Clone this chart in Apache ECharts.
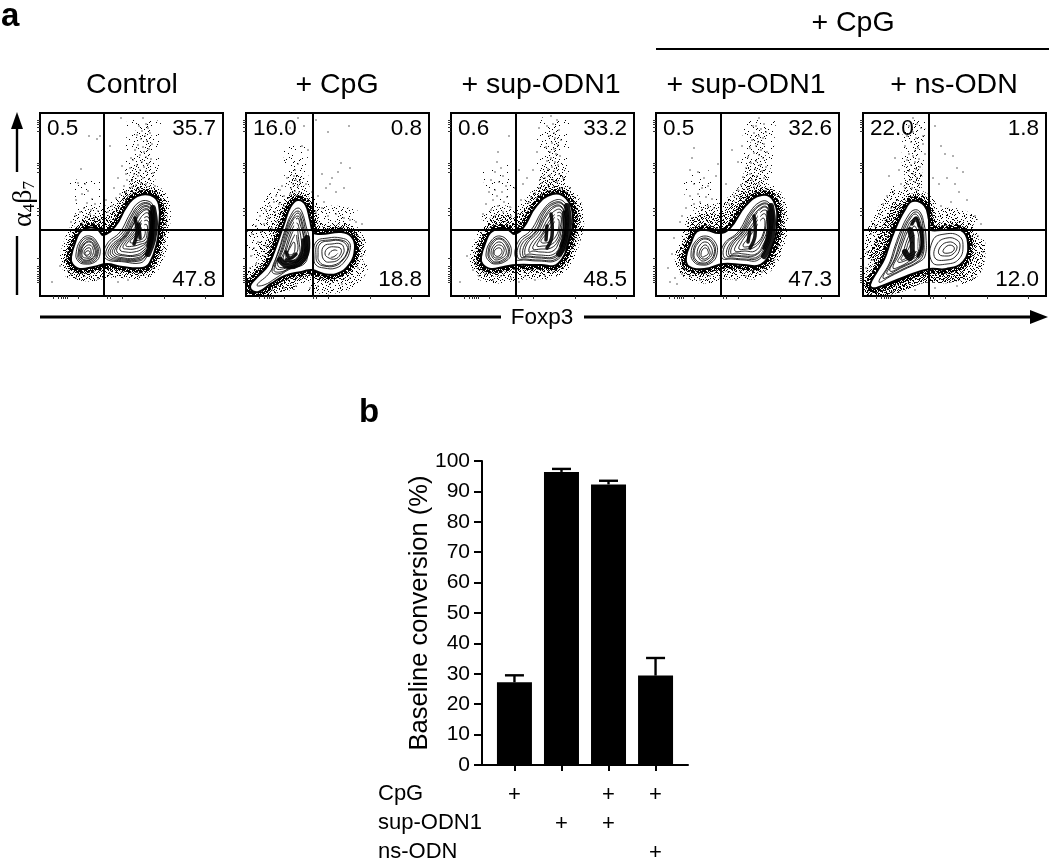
<!DOCTYPE html>
<html><head><meta charset="utf-8">
<script src="https://cdn.jsdelivr.net/npm/echarts@6/dist/echarts.min.js"></script>
<style>html,body{margin:0;padding:0;background:#fff}#c{width:1050px;height:862px}</style>
</head><body><div id="c"></div>
<script>
// ---------- bar chart values ----------
const barConditions = [1, 2, 3, 4];
const barMeans = [27.2, 96.4, 92.3, 29.4];
const barUpper = [29.5, 97.4, 93.5, 35.2];
const rowTitles = ['CpG', 'sup-ODN1', 'ns-ODN'];
const rowCpG = ['+', ' ', '+', '+'];
const rowSup = [' ', '+', '+', ' '];
const rowNs = [' ', ' ', ' ', '+'];
// ---------- flow panels ----------
const panelTitles = ['Control', '+ CpG', '+ sup-ODN1', '+ sup-ODN1', '+ ns-ODN'];
const panelUL = ['0.5', '16.0', '0.6', '0.5', '22.0'];
const panelUR = ['35.7', '0.8', '33.2', '32.6', '1.8'];
const panelLR = ['47.8', '18.8', '48.5', '47.3', '12.0'];
const gateX = [64, 67, 65, 65, 66];
const gateY = [66.5, 66.5, 66, 66, 66];
const xTicks = [13, 18, 21, 23, 25, 27, 38, 67, 70, 82, 124, 165];
const yTicks = [14, 16, 18, 20, 22, 25, 28, 30, 38, 81, 85, 88, 124, 128, 131, 133, 165, 169, 172, 174, 176];

// stipple tile for the cloud of events: a pixel is inked where its digit pair is below the density
const stippleTile = [
'730916482957304186293571','264871039416825037948162','918350627183096452710396','405279164725483901365827',
'681043895302716948052134','137625908461350279684910','794018236597142803516273','350962471038695124870649',
'826137590214708365921058','093584162749031587246317','572690318825964013798542','148305729460137896352061',
'965214083791526340817495','301786945038249175603928','487029613652870431965172','756341208917035628149403',
'029568734150692487320716','614897052346918703582649','893120476583402159761035','270465918037265841093587',
'546781329604173920658214','182039657428590316247860','935672041861347205916358','418206593710284967035129'];

const p1Outer = [33,39,37,53,43,64,55,66,63,59,77,69,88,88,98,98,110,99,117,91,117,69,115,53,108,34,102,30,83,31,67,34,53,31,40,29,34,33];
const p1Plumes = [[0.3,34,104,176,103,150,102,120],[0.7,16,104,172,103,145,102,120],[1,26,103,130,102,115,98,100],[2,16,100,116,95,104,88,92],[0.2,30,44,118,50,96,58,80],[1,18,36,72,50,80,64,80,78,88,92,104],[3,13,42,70,54,74,64,72,76,78,90,98],[2,15,28,26,48,22,72,26,100,24]];
const p1Rings = [
[36,42,41,56,50,60,58,52,60,42,55,34,44,32,38,35],[38,42,42,55,50,58,57,51,58,42,54,35,45,33,39,36],[39,43,43,53,50,57,56,50,57,42,53,36,45,34,40,37],[40,43,44,52,50,55,55,49,56,42,52,37,45,35,41,38],[41,43,44,51,50,54,54,49,55,42,51,37,45,36,42,38],[42,43,45,49,50,51,53,47,53,42,50,38,46,38,43,39],[44,43,46,47,50,48,51,45,51,42,49,39,46,40],[45,43,47,45,49,45,50,43,48,41,46,41],
[65,38,67,52,80,64,90,82,98,93,108,95,114,88,114,68,112,52,106,38,100,33,85,34],[67,39,69,51,82,63,91,80,99,91,108,93,113,87,113,68,112,52,105,39,99,35,84,35],[69,40,71,50,83,61,92,79,100,90,108,92,113,86,113,68,111,52,105,40,98,36,84,36],[71,41,73,50,84,60,93,77,100,88,108,90,112,84,112,68,111,53,104,41,97,37,84,37],[73,42,75,50,85,60,94,76,101,87,108,89,112,82,112,68,110,54,104,42,96,38,84,38],[75,43,77,50,86,60,95,75,101,85,108,87,111,81,111,67,110,54,103,43,96,40,85,40],[77,44,79,51,87,60,95,74,102,84,108,86,111,80,111,66,109,54,103,45,95,41,85,41],[80,46,82,52,89,60,97,72,103,81,108,83,110,76,110,64,108,54,102,47,94,44,86,44],[83,48,85,53,91,60,98,70,104,78,108,79,110,72,109,62,107,54,102,50,94,47,87,47],[86,50,88,54,93,60,99,68,104,75,108,75,109,68,108,60,106,54,101,52,94,50],[90,54,95,60,100,66,104,71,107,71,107,62,105,56,100,54,94,53],
[95,56,99,62,102,68,105,66,104,59,100,56]];
const p1Core = [[113,88,115,72,113,56,108,42],[110,84,111,66,108,50],[95,78,97,64,94,52],[99,72,100,58]];
const p1Light = [[103,79,103,64]];
const p1Dots = [103,178,106,172,99,170,108,168,102,165,110,163,97,161,105,160,101,157,107,155,112,152,98,151,103,149,109,147,95,146,104,144,100,141,106,139,111,137,93,136,102,134,108,132,97,131,104,129,90,128,100,126,106,125,113,123,94,122,98,120,103,118,109,117,87,116,92,115,101,113,106,112,96,111,84,110,90,108,99,107,104,106,110,105,86,104,93,103,80,102,97,101,108,101,88,100,76,98,83,97,92,109,115,110,99,123,86,122,81,178,60,160,57,157,49,160,70,150,41,127,38,113,45,112,48,105,42,102,52,97,36,96,47,93,55,92,44,88,51,86,58,85,40,84,35,80,47,79,54,78,60,76,31,74,42,73,50,82,12,14,20,30,28,25,31,22,36,18,44,20,58,17,63,19,70,22,78,14,88,16,94,26,100,23,112,28,120,41,123,60,126,72,122,84,118,100,72,90,68,84,66,96,74,108,78,118,82,130,91,138];

const p2Outer = [6,9,12,17,24,30,33,52,40,72,46,88,52,94,58,90,62,76,66,62,75,60,95,62,104,58,107,48,102,33,90,24,78,24,66,28,55,26,38,22,24,14,12,6];
const p2Plumes = [[0.4,24,50,150,50,125,52,104],[1.2,16,50,122,50,104,48,92],[0.7,34,8,40,18,60,30,84,42,98],[1.6,16,14,36,24,58,34,82],[0.7,24,72,78,92,78,108,74],[1.2,20,64,14,84,12,104,18,114,34],[2.5,14,12,4,30,10,50,14]];
const p2Rings = [
[11,11,24,24,32,44,39,66,46,83,52,88,56,84,60,70,63,58,62,42,58,32,44,27,30,18,18,11],[26,25,33,45,40,66,46,80,52,85,56,80,59,68,61,56,61,42,56,32,44,28,32,22],[28,26,35,46,41,66,47,78,52,83,55,78,58,66,60,54,60,42,55,33,44,28,34,24],[30,28,36,46,42,65,47,76,52,80,55,75,57,64,59,52,59,42,54,34,44,29],[32,30,37,46,43,64,48,74,52,78,54,72,57,62,58,50,58,42,53,35,44,30],[35,34,39,46,44,62,48,70,51,73,53,68,55,58,56,48,56,42,51,36,43,32],[37,36,41,48,45,60,48,66,51,68,52,62,53,54,54,46,53,41,48,36,42,34],[40,38,43,48,47,58,50,62,51,56,52,48,50,42,46,38],[42,42,45,50,48,54,49,48,47,42],
[68,38,70,54,82,58,95,58,103,54,104,46,99,35,90,28,78,28,70,31],[70,39,72,53,83,56,95,56,102,52,102,45,97,36,89,30,78,30,72,33],[72,40,74,52,84,55,95,55,101,50,101,44,96,36,88,31,78,31,73,35],[76,42,78,50,86,52,95,52,98,47,97,42,92,36,85,34,79,35],[79,42,82,48,90,49,95,47,94,41,89,37,83,38],[83,42,88,46,92,44,89,40,85,39]];
const p2Core = [[34,36,42,30,52,32,60,42,61,58],[40,36,50,35,56,44,57,56],[40,44,44,38,50,42]];
const p2Light = [[49,76,50,62],[84,40,92,44]];
const p2Dots = [52,178,58,170,44,168,56,150,62,146,70,176,82,164,103,170,104,128,95,133,92,124,86,118,84,112,76,122,80,108,90,104,98,108,52,132,49,126,48,120,50,116,54,114,47,112,52,110,45,108,49,105,53,104,44,102,50,100,41,118,36,110,34,106,38,100,30,100,42,98,28,94,33,92,24,90,38,90,20,86,29,84,14,80,22,78,18,72,10,70,26,68,15,64,6,62,12,54,8,48,20,50,5,40,10,32,4,28,18,40,70,84,76,88,82,80,90,82,98,78,104,76,110,74,116,72,112,60,118,56,116,40,112,28,104,18,96,12,84,12,72,10,64,8,50,10,38,8,26,6,72,100,78,94,60,112,66,104];

const p3Outer = [32,39,36,52,42,63,55,65,63,60,73,66,87,89,102,100,114,96,120,79,117,59,106,34,90,33,65,33,52,31,40,29,33,33];
const p3Plumes = [[0.3,32,103,178,102,150,102,120],[0.8,16,102,170,102,145,102,120],[1.2,26,102,132,102,118,98,102],[2.2,16,100,118,94,106,86,94],[0.2,30,46,130,50,104,58,82],[1,18,36,72,50,82,64,78,80,90,92,106],[3,13,40,70,50,76,64,72,76,80,90,100],[1.5,15,28,24,46,20,72,24,100,24]];
const p3Rings = [
[35,42,40,55,49,60,58,53,60,42,55,35,44,32,38,35],[37,43,41,54,49,58,57,51,58,42,54,36,44,33,39,36],[38,43,42,53,49,57,56,50,57,42,53,37,45,34,40,37],[40,43,43,51,49,54,54,49,55,42,51,38,45,36,42,38],[42,43,44,49,49,51,53,47,52,42,50,39,46,38,43,39],[43,43,45,47,49,48,51,45,50,42,48,40,45,40],
[65,37,67,54,80,66,92,86,102,95,112,95,117,84,117,66,114,50,106,36,88,35,74,36],[67,38,69,53,82,65,93,85,102,93,111,93,116,83,116,66,113,51,105,37,88,36,75,37],[70,39,71,52,84,64,94,84,103,92,111,92,115,82,115,66,112,52,105,39,88,38,76,39],[72,40,74,52,85,64,95,82,103,90,110,90,114,81,114,66,111,52,104,40,88,39,77,40],[74,41,76,52,87,64,96,81,104,89,110,89,114,80,114,66,110,53,103,42,88,41,78,42],[78,44,80,52,89,63,98,79,105,86,110,86,112,78,112,66,108,54,102,45,90,44,82,45],[82,47,84,53,91,62,99,76,106,83,110,83,111,76,110,65,107,55,100,48,90,47],[86,50,88,55,93,63,100,74,106,80,110,79,109,68,106,57,99,51,92,50],[90,54,95,62,102,72,107,77,108,70,105,60,98,54]];
const p3Core = [[116,90,118,72,115,54,108,42],[113,84,113,62,110,50],[100,82,101,60,96,48],[96,70,95,56]];
const p3Light = [[105,84,105,68]];
const p3Dots = [100,180,106,176,102,172,96,170,108,166,103,163,98,160,104,158,110,156,101,153,107,151,95,149,103,147,99,144,105,142,109,140,100,138,96,135,104,134,107,131,101,129,97,127,103,125,108,122,99,121,94,118,102,116,106,114,91,113,97,111,103,109,110,108,88,108,94,106,100,104,84,103,91,101,106,103,80,99,86,98,78,94,112,118,115,104,119,108,47,144,46,134,50,128,44,124,52,120,40,116,48,114,55,110,44,106,51,104,38,104,46,100,56,99,42,96,53,94,35,92,47,90,59,89,40,86,52,84,32,82,44,80,60,80,66,82,70,96,64,108,72,112,76,118,68,126,82,126,86,144,88,168,58,160,25,32,22,26,28,20,34,22,42,16,50,20,60,18,68,14,74,20,84,16,94,20,102,24,112,28,122,50,126,66,124,84,16,40,9,14];

const p4Outer = [32,39,37,53,42,63,50,64,63,61,75,66,91,89,106,99,116,94,119,73,114,49,104,33,88,33,67,34,48,29,34,31];
const p4Plumes = [[0.3,32,104,176,102,150,100,120],[0.8,16,103,170,102,145,100,120],[1.2,26,102,132,100,118,96,104],[2.2,16,100,118,94,106,86,96],[0.2,32,40,124,46,100,58,84],[1.2,18,34,68,48,82,64,84,78,92,92,106],[3,13,36,68,48,76,64,76,78,84,92,102],[1.5,15,28,28,46,20,70,24,100,24]];
const p4Rings = [
[35,42,39,54,49,60,59,54,61,42,55,33,45,31,38,34],[37,42,41,54,50,58,58,52,59,42,54,34,46,32,39,35],[38,42,42,53,50,57,57,51,58,42,53,35,46,33,40,36],[41,42,44,51,50,54,55,49,56,42,52,37,46,35,43,38],[43,42,46,49,50,51,53,47,54,42,51,38,47,37,44,39],[45,42,47,47,50,48,52,45,52,42,49,40,46,39],
[66,38,68,52,82,64,94,84,104,94,112,94,117,84,116,66,112,50,102,36,88,36,76,37],[68,39,70,52,84,64,95,83,105,92,112,92,116,83,115,66,111,51,102,38,88,37,77,38],[71,40,73,51,85,63,96,82,105,91,112,91,115,82,114,66,110,52,101,39,88,39,78,40],[73,41,75,51,86,63,97,80,106,89,111,89,114,81,113,66,109,52,100,41,88,40,79,41],[75,42,77,51,87,62,98,79,106,88,111,88,113,80,113,66,108,53,100,42,88,42,80,43],[79,45,81,52,89,62,100,77,106,85,111,85,112,76,111,65,106,54,99,45,89,45],[83,47,85,53,91,62,101,75,107,82,110,81,110,72,108,62,104,54,97,48,90,47],[87,50,94,60,102,72,107,78,109,74,107,62,102,54,95,50]];
const p4Core = [[115,90,117,72,114,52,108,40],[112,84,112,62,108,48],[98,80,99,60,94,48],[94,66,92,54]];
const p4Light = [[103,84,103,68]];
const p4Dots = [103,178,108,172,100,170,105,167,110,164,98,163,103,160,107,158,96,156,102,154,108,152,100,150,94,148,105,146,111,144,98,143,103,141,92,139,107,138,100,135,95,133,104,131,110,129,90,128,99,127,106,125,94,122,101,120,87,119,108,118,96,116,90,114,103,112,85,111,98,109,92,107,111,107,82,106,88,103,100,102,78,100,84,98,116,100,73,92,70,112,62,132,60,120,38,148,36,138,34,126,42,124,48,118,38,112,46,108,52,110,42,102,50,99,34,100,56,97,44,94,38,92,52,90,58,88,30,88,46,86,26,80,36,78,24,74,18,58,16,42,12,28,19,18,26,22,34,20,44,16,54,20,64,18,72,24,80,16,90,20,98,26,106,24,118,36,122,50,124,62,123,80,14,14,21,12,82,134,86,150,76,146,97,170];

const p5Outer = [9,11,16,24,23,36,30,56,37,73,44,86,50,93,60,89,64,76,66,65,80,64,97,64,103,53,99,36,83,29,66,29,41,21,13,10];
const p5Plumes = [[0.6,22,52,176,50,150,50,125],[1.4,18,50,130,50,112,48,98],[1.2,30,8,36,18,60,30,84,42,102],[4,16,12,34,26,66,38,90],[1.5,24,70,74,92,76,108,68],[2,20,112,56,110,30,96,20],[4,14,8,6,34,10,60,20,84,20,100,24]];
const p5Rings = [
[16,14,26,32,32,50,38,66,45,80,51,86,57,84,61,72,63,58,62,40,56,34,40,26,28,20],[20,18,28,34,34,52,40,67,46,78,52,84,57,81,60,69,61,56,60,41,54,34,40,27,30,22],[24,22,31,36,37,54,42,68,47,77,52,82,56,78,59,66,60,54,59,42,52,35,40,29],[27,25,33,39,39,55,44,68,48,75,53,78,56,72,58,60,58,48,54,38,40,30],[30,28,36,42,41,56,46,68,50,74,54,74,56,66,58,54,56,42,48,36,38,30],[35,34,40,44,44,56,48,64,51,70,54,66,56,56,55,44,48,38],[38,36,43,46,46,55,50,60,53,60,54,52,53,44,47,40],[42,40,46,48,49,54,51,52,51,46,47,42],
[69,34,70,56,82,62,96,60,100,50,96,37,84,32],[72,38,74,52,84,58,94,56,97,50,93,40,84,36],[76,42,78,50,86,54,92,52,94,48,90,42,84,40],[80,44,84,50,90,50,91,46,86,43]];
const p5Core = [[47,66,50,50,47,38,42,44],[58,68,59,50,55,40],[49,72,53,78,56,70]];
const p5Light = [[53,62,53,46]];
const p5Dots = [50,178,54,172,46,170,58,168,50,164,44,160,53,158,48,154,60,152,42,150,55,148,52,145,46,142,62,142,50,140,56,137,44,136,52,134,48,131,57,129,53,127,46,125,50,122,58,121,54,118,47,116,52,114,44,112,56,112,49,108,54,106,42,108,38,112,36,126,32,138,26,120,30,104,24,100,34,96,20,92,28,88,16,82,24,76,12,70,20,66,8,62,14,54,4,44,10,36,3,28,72,170,78,150,82,142,90,140,94,128,100,124,84,118,92,112,76,112,70,118,66,128,96,104,104,96,88,94,78,90,112,80,118,72,115,60,120,44,116,30,110,18,94,10,72,8,52,6,30,4,66,150,60,160];

const panelOuter = [p1Outer, p2Outer, p3Outer, p4Outer, p5Outer];
const panelPlumes = [p1Plumes, p2Plumes, p3Plumes, p4Plumes, p5Plumes];
const panelRings = [p1Rings, p2Rings, p3Rings, p4Rings, p5Rings];
const panelCore = [p1Core, p2Core, p3Core, p4Core, p5Core];
const panelLight = [p1Light, p2Light, p3Light, p4Light, p5Light];
const panelDots = [p1Dots, p2Dots, p3Dots, p4Dots, p5Dots];

// ---------- layout ----------
const panelLeft = [40, 246, 451, 656, 863];
const titleX = [132, 337, 541, 746, 954];
const panelTop = 113, panelSize = 183;
const FONT = '"Liberation Sans", Arial, sans-serif';

function pairs(a) { const o = []; for (let i = 0; i < a.length; i += 2) o.push([a[i], a[i + 1]]); return o; }

const stippleCache = {};
function stipple(density) {
  if (stippleCache[density]) return stippleCache[density];
  const n = stippleTile.length, cv = document.createElement('canvas');
  cv.width = cv.height = n;
  const g = cv.getContext('2d'); g.fillStyle = '#000';
  stippleTile.forEach((row, y) => {
    for (let x = 0; x < n; x++) {
      const fine = +stippleTile[(y + 11) % n][(x + 7) % n] / 10;
      if (+row[x] + fine < density) g.fillRect(x, y, 1, 1);
    }
  });
  return (stippleCache[density] = { image: cv, repeat: 'repeat' });
}

const grids = [], xAxes = [], yAxes = [], series = [], graphic = [];

panelLeft.forEach((left, i) => {
  grids.push({ left, top: panelTop, width: panelSize, height: panelSize, show: true, borderColor: '#000', borderWidth: 2, backgroundColor: '#fff', outerBoundsMode: 'none' });
  const tick = { show: true, length: 3, inside: false, lineStyle: { color: '#333', width: 1 } };
  xAxes.push({ gridIndex: i, type: 'value', min: 0, max: panelSize, axisLine: { show: false }, axisLabel: { show: false }, splitLine: { show: false }, axisTick: Object.assign({ customValues: xTicks }, tick) });
  yAxes.push({ gridIndex: i, type: 'value', min: 0, max: panelSize, axisLine: { show: false }, axisLabel: { show: false }, splitLine: { show: false }, axisTick: Object.assign({ customValues: yTicks }, tick) });

  series.push({ type: 'scatter', xAxisIndex: i, yAxisIndex: i, data: pairs(panelDots[i]), symbolSize: 1.4, itemStyle: { color: '#000', opacity: 0.85 }, silent: true, z: 2, animation: false });

  series.push({
    type: 'custom', xAxisIndex: i, yAxisIndex: i, data: [[0, 0]], silent: true, z: 3, animation: false, clip: true,
    renderItem: (params, api) => {
      const pts = a => pairs(a).map(p => api.coord(p));
      const kids = [];
      panelPlumes[i].forEach(f => {
        kids.push({ type: 'polyline', shape: { points: pts(f.slice(2)), smooth: 0.4 }, style: { fill: 'none', stroke: stipple(f[0]), lineWidth: f[1], lineCap: 'butt', lineJoin: 'round' } });
      });
      const outer = pts(panelOuter[i]);
      const ring = (style) => kids.push({ type: 'polygon', shape: { points: outer, smooth: 0.45 }, style: Object.assign({ lineJoin: 'round' }, style) });
      ring({ fill: 'none', stroke: stipple(1.2), lineWidth: 26 });
      ring({ fill: 'none', stroke: stipple(3.5), lineWidth: 19 });
      ring({ fill: 'none', stroke: stipple(7.5), lineWidth: 13 });
      ring({ fill: '#fff', stroke: '#000', lineWidth: 6 });
      ring({ fill: '#fff', stroke: '#fff', lineWidth: 2 });
      panelRings[i].forEach(r => {
        kids.push({ type: 'polygon', shape: { points: pts(r), smooth: 0.45 }, style: { fill: 'none', stroke: '#111', lineWidth: 0.9 } });
      });
      panelCore[i].forEach((c, k) => {
        kids.push({ type: 'polyline', shape: { points: pts(c), smooth: 0.4 }, style: { fill: 'none', stroke: '#000', lineWidth: k === 0 ? 6 : 3.5, lineCap: 'round', opacity: 0.9 } });
      });
      panelLight[i].forEach(l => {
        kids.push({ type: 'polyline', shape: { points: pts(l), smooth: 0.4 }, style: { fill: 'none', stroke: '#fff', lineWidth: 2.5, lineCap: 'round' } });
      });
      return { type: 'group', children: kids };
    }
  });

  series.push({
    type: 'scatter', xAxisIndex: i, yAxisIndex: i, data: [], symbolSize: 0, z: 5, silent: true, animation: false,
    markLine: { silent: true, symbol: 'none', animation: false, label: { show: false }, lineStyle: { color: '#000', width: 2, type: 'solid' }, data: [{ xAxis: gateX[i] }, { yAxis: gateY[i] }] }
  });

  const txt = (x, y, s, size, align) => ({ type: 'text', x, y, z: 20, silent: true, style: { text: s, font: size + 'px ' + FONT, fill: '#000', align, verticalAlign: 'middle' } });
  graphic.push(txt(titleX[i], 85, panelTitles[i], 28.5, 'center'));
  graphic.push(txt(left + 7, 129, panelUL[i], 22.5, 'left'));
  graphic.push(txt(left + 176, 129, panelUR[i], 22.5, 'right'));
  graphic.push(txt(left + 176, 280, panelLR[i], 22.5, 'right'));
});

// ---------- bar panel ----------
const b = panelLeft.length;
grids.push({ left: 482, top: 461, width: 206, height: 304, outerBoundsMode: 'none' });
xAxes.push({
  gridIndex: b, type: 'value', min: 0.31, max: 4.69,
  axisLine: { show: true, onZero: false, lineStyle: { color: '#000', width: 2 } },
  axisTick: { show: true, length: 6, lineStyle: { color: '#000', width: 2 }, customValues: barConditions },
  axisLabel: {
    show: true, customValues: barConditions, margin: 15, color: '#000', fontFamily: FONT, fontSize: 22, lineHeight: 29,
    formatter: v => { const k = barConditions.indexOf(v); return [rowCpG[k], rowSup[k], rowNs[k]].join('\n'); }
  },
  splitLine: { show: false }
});
yAxes.push({
  gridIndex: b, type: 'value', min: 0, max: 100, interval: 10,
  name: 'Baseline conversion (%)', nameLocation: 'middle', nameGap: 49, nameRotate: 90, nameMoveOverlap: false,
  nameTextStyle: { color: '#000', fontFamily: FONT, fontSize: 25.5 },
  axisLine: { show: true, lineStyle: { color: '#000', width: 2 } },
  axisTick: { show: true, length: 8, lineStyle: { color: '#000', width: 2 } },
  axisLabel: { color: '#000', fontFamily: FONT, fontSize: 21, margin: 12 },
  splitLine: { show: false }
});
series.push({
  type: 'bar', xAxisIndex: b, yAxisIndex: b, barWidth: 35, animation: false, silent: true,
  data: barConditions.map((c, k) => [c, barMeans[k]]), itemStyle: { color: '#000' }, z: 3
});
series.push({
  type: 'custom', xAxisIndex: b, yAxisIndex: b, animation: false, silent: true, z: 4,
  data: barConditions.map((c, k) => [c, barMeans[k], barUpper[k]]),
  renderItem: (params, api) => {
    const a = api.coord([api.value(0), api.value(1)]), t = api.coord([api.value(0), api.value(2)]);
    const st = { stroke: '#000', lineWidth: 2.4 };
    return { type: 'group', children: [
      { type: 'line', shape: { x1: a[0], y1: a[1], x2: a[0], y2: t[1] }, style: st },
      { type: 'line', shape: { x1: a[0] - 9.5, y1: t[1], x2: a[0] + 9.5, y2: t[1] }, style: st }
    ] };
  }
});

// ---------- annotations ----------
const label = (x, y, s, size, align, weight) => ({ type: 'text', x, y, z: 20, silent: true, style: { text: s, font: (weight || '') + ' ' + size + 'px ' + FONT, fill: '#000', align: align || 'left', verticalAlign: 'middle' } });
const seg = (x1, y1, x2, y2, w) => ({ type: 'line', z: 20, silent: true, shape: { x1, y1, x2, y2 }, style: { stroke: '#000', lineWidth: w || 2 } });
graphic.push(label(1, 17, 'a', 33, 'left', 'bold'));
graphic.push(label(359, 413, 'b', 33, 'left', 'bold'));
graphic.push(label(853, 23, '+ CpG', 28.5, 'center'));
graphic.push(seg(656, 49, 1049, 49, 2));
graphic.push(seg(40, 317, 501, 317, 3));
graphic.push(seg(584, 317, 1032, 317, 3));
graphic.push({ type: 'polygon', z: 20, silent: true, shape: { points: [[1030, 310], [1048, 317], [1030, 324]] }, style: { fill: '#000' } });
graphic.push(label(542, 318, 'Foxp3', 22.5, 'center'));
graphic.push(seg(17, 295, 17, 236, 2.4));
graphic.push(seg(17, 172, 17, 125, 2.4));
graphic.push({ type: 'polygon', z: 20, silent: true, shape: { points: [[11, 129], [17, 112], [23, 129]] }, style: { fill: '#000' } });
graphic.push({
  type: 'text', x: 24, y: 204, rotation: Math.PI / 2, z: 20, silent: true,
  style: { text: '{a|α}{s|4}{a|β}{s|7}', align: 'center', verticalAlign: 'middle', fill: '#000',
    rich: { a: { font: '28px "Liberation Serif", serif', fill: '#000' }, s: { font: '17px "Liberation Serif", serif', fill: '#000', verticalAlign: 'bottom', padding: [8, 0, 0, 0] } } }
});
rowTitles.forEach((t, k) => graphic.push(label(378, 794 + k * 29, t, 22, 'left')));

const chart = echarts.init(document.getElementById('c'), null, { renderer: 'canvas' });
chart.setOption({ animation: false, backgroundColor: '#fff', grid: grids, xAxis: xAxes, yAxis: yAxes, series, graphic });
</script></body></html>
